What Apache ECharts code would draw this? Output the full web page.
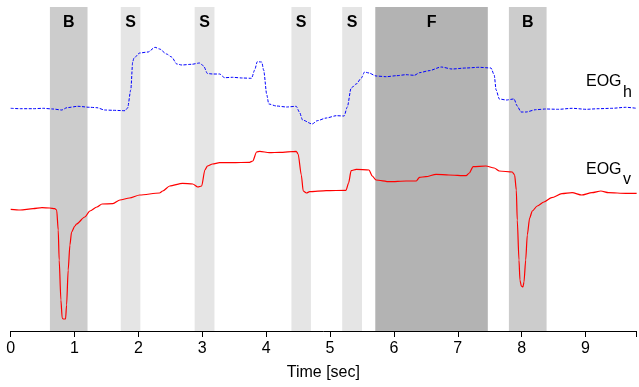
<!DOCTYPE html>
<html>
<head>
<meta charset="utf-8">
<script src="https://cdn.jsdelivr.net/npm/echarts@6/dist/echarts.min.js"></script>
<style>html,body{margin:0;padding:0;background:#fff}#c{width:639px;height:387px}</style>
</head>
<body>
<div id="c"></div>
<script>
// Horizontal EOG (blue dashed)
const hTime = [0.00,0.15,0.35,0.51,0.66,0.80,0.88,1.05,1.24,1.35,1.47,1.60,1.79,1.83,1.88,1.91,1.93,2.02,2.15,2.26,2.33,2.44,2.52,2.60,2.68,2.83,2.96,3.02,3.08,3.16,3.27,3.35,3.47,3.63,3.77,3.82,3.86,3.93,3.96,4.01,4.04,4.16,4.32,4.47,4.52,4.57,4.72,4.80,4.94,5.10,5.22,5.27,5.33,5.41,5.49,5.54,5.61,5.72,5.88,6.04,6.19,6.32,6.40,6.55,6.74,6.91,7.13,7.33,7.52,7.57,7.60,7.65,7.76,7.88,7.93,7.99,8.07,8.22,8.38,8.58,8.79,9.01,9.21,9.41,9.63,9.80];
const hVal = [222.7,222.3,222.3,222.7,222,221,223.3,224.7,223.7,223.3,221,220.7,220.3,223,241,269,273,278,279,283.7,282,277,274,267,266,266.7,268,265,257.5,257,257,253.3,253.7,253,252.7,261,269.3,269,261,236,227,225,224,224.7,219,211,207,210.3,213,215.3,215,224,243,247,253,259,258,255,254.3,255.3,256.3,255.7,258.3,260.3,264,262,263,263.7,263,256,241,232,231,232,225,219,219,221.3,222,221.7,222.7,221.7,222.3,222.7,223.7,222.7];
// Vertical EOG (red)
const vTime = [0.00,0.15,0.35,0.49,0.61,0.69,0.72,0.744,0.759,0.786,0.806,0.822,0.859,0.875,0.900,0.927,0.953,1.005,1.031,1.16,1.24,1.35,1.43,1.60,1.71,1.86,2.02,2.33,2.38,2.49,2.69,2.85,2.93,2.99,3.04,3.08,3.16,3.27,3.47,3.74,3.79,3.85,3.90,4.05,4.21,4.47,4.50,4.55,4.58,4.63,4.68,4.94,5.25,5.29,5.33,5.41,5.61,5.66,5.72,5.93,6.19,6.35,6.40,6.50,6.66,6.86,7.13,7.18,7.24,7.44,7.57,7.65,7.853,7.89,7.916,7.931,7.958,7.973,7.994,8.02,8.036,8.063,8.088,8.125,8.166,8.244,8.349,8.47,8.63,8.79,8.94,9.10,9.24,9.36,9.63,9.80];
const vVal = [121.7,121,122.3,123.3,123,122.3,121,101,71,31,13,12,12,26,61,86,99,105,107,114,120,124,127,127.3,131,133,136,138,140,145,147.7,147,144,145,161,165,167,168.3,168.3,168.7,170,179,179.7,178.3,178.7,179.7,177,156,140,138,139.3,140.3,140.7,148,160.3,161.7,161,155,151,149.3,150,150,153.7,154.3,156.7,156,155.3,158,164.3,165,163,160,159,156,141,111,71,51,45,44,49,71,96,113,120,125,129,133.3,137.3,138.3,136,138.3,140,138.3,137.7,137.7];
// Event bands
const bandStart = [0.614,1.723,2.88,4.395,5.19,5.708,7.80];
const bandEnd   = [1.203,2.03,3.19,4.70,5.50,7.47,8.39];
const bandLabel = ['B','S','S','S','S','F','B'];
const xTicks = [0,1,2,3,4,5,6,7,8,9];

const bandColor = {B:'#cccccc', S:'#e5e5e5', F:'#b3b3b3'};
const FONT = 'Liberation Sans, Arial, sans-serif';
const chart = echarts.init(document.getElementById('c'), null, {renderer:'canvas'});
const zip = (a,b)=>a.map((t,i)=>[t,b[i]]);
chart.setOption({
  animation:false,
  backgroundColor:'#fff',
  grid:{left:10.7, right:1.7, top:7, bottom:56},
  xAxis:{type:'value', min:0, max:9.79, interval:1,
    axisLine:{lineStyle:{color:'#000', width:1}},
    axisTick:{length:6, lineStyle:{color:'#000'}},
    splitLine:{show:false},
    axisLabel:{color:'#000', fontSize:16, fontFamily:FONT, margin:10,
      formatter:v=>xTicks.includes(v)?String(v):''},
    name:'Time [sec]', nameLocation:'middle', nameGap:34,
    nameTextStyle:{color:'#000', fontSize:16, fontFamily:FONT}},
  yAxis:{type:'value', min:0, max:324, show:false},
  series:[
    {type:'line', data:[], z:1, silent:true,
      markArea:{silent:true, data: bandStart.map((s,i)=>[
        {xAxis:s, itemStyle:{color:bandColor[bandLabel[i]]},
         label:{show:true, formatter:bandLabel[i], position:'insideTop', distance:8,
           color:'#000', fontSize:16, fontWeight:'bold', fontFamily:FONT}},
        {xAxis:bandEnd[i]}])}},
    {type:'line', name:'EOGh', data:zip(hTime,hVal), z:3, showSymbol:false, smooth:0.25, smoothMonotone:'x',
      lineStyle:{color:'#0000ff', width:1, type:[3,1.5]}},
    {type:'line', name:'EOGv', data:zip(vTime,vVal), z:3, showSymbol:false, smooth:0.25, smoothMonotone:'x',
      lineStyle:{color:'#ff0000', width:1.2}}
  ],
  graphic:[
    {type:'text', left:586, top:74, style:{text:'EOG', font:'16px '+FONT, fill:'#000'}},
    {type:'text', left:623, top:85, style:{text:'h', font:'16px '+FONT, fill:'#000'}},
    {type:'text', left:586, top:162, style:{text:'EOG', font:'16px '+FONT, fill:'#000'}},
    {type:'text', left:623, top:172, style:{text:'v', font:'16px '+FONT, fill:'#000'}}
  ]
});
</script>
</body>
</html>
